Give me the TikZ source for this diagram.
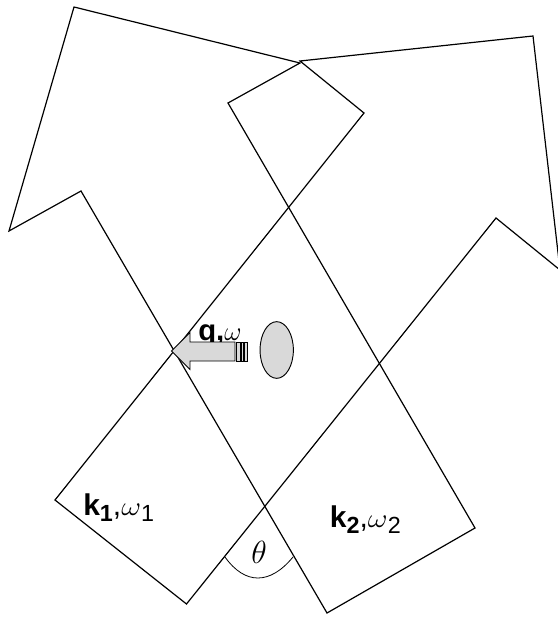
\RequirePackage{fix-cm}
\documentclass[tikz,border=0pt]{standalone}
\usepackage{fontspec}
\setmainfont{Liberation Sans}
\usepackage{graphicx}
\usetikzlibrary{shapes.geometric}
\DeclareMathSizes{20}{20}{14}{10}
\DeclareMathSizes{24}{24}{17}{12}
\tikzset{
  beam/.style={draw=black, line width=0.9pt, line join=miter},
  qarrow/.style={draw=black, fill=black!15, line width=0.6pt},
  blobstyle/.style={draw=black, fill=black!15, line width=0.7pt, ellipse, inner sep=0pt,
                    minimum width=25pt, minimum height=42.5pt},
  lbl/.style={inner sep=0pt, anchor=base west},
  anglearc/.style={draw=black, line width=0.6pt},
}
\newcommand{\bigomega}{{\fontsize{20}{20}\selectfont$\omega$}}
\newcommand{\beamlabel}[1]{{\fontsize{22.5}{22.5}\selectfont\textbf{k}\raisebox{-4.5pt}{\fontsize{17.5}{17.5}\selectfont\textbf{#1}},\scalebox{1.15}[1]{\bigomega}\raisebox{-4.5pt}{\fontsize{17.5}{17.5}\selectfont #1}}}
\begin{document}
\begin{tikzpicture}[x=0.75pt,y=-0.75pt]
\useasboundingbox (0,0) rectangle (557,617);
% beam k1 (pointing up-right)
\draw[beam] (55,500) -- (364,113) -- (300,61) -- (533,36) -- (560,270) -- (496,218) -- (186.5,604) -- cycle;
% beam k2 (pointing up-left)
\draw[beam] (327,613) -- (81,191) -- (9,231) -- (74,7) -- (300,63) -- (228,103) -- (475,528) -- cycle;
% angle
\draw[anglearc] (225,557) .. controls (245,585) and (270,585) .. (293,557);
\node[inner sep=0pt] (theta) at (259.2,552) {\fontsize{24}{24}\selectfont$\theta$};
% labels
\node[lbl] (k1) at (83,515.3) {\beamlabel{1}};
\node[lbl] (k2) at (329.7,527) {\beamlabel{2}};
\node[lbl] (q) at (198,340) {\fontsize{22}{22}\selectfont\textbf{q,}\bigomega};
% scatterer
\node[blobstyle] (blob) at (276.7,350) {};
% striped arrow q
\draw[qarrow] (171.5,351) -- (190,332.5) -- (190,342) -- (235,342) -- (235,361) -- (190,361) -- (190,369.5) -- cycle;
\draw[qarrow] (236,342) rectangle (240,361);
\draw[qarrow] (241.2,342) rectangle (243.3,361);
\draw[qarrow] (244.8,342) rectangle (247,361);
\end{tikzpicture}
\end{document}
